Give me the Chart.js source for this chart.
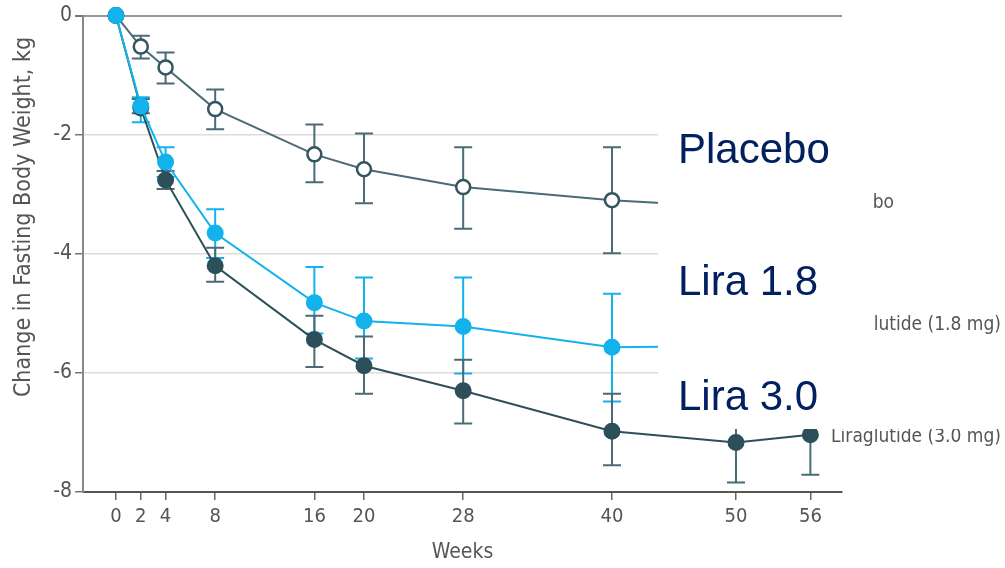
<!DOCTYPE html>
<html>
<head>
<meta charset="utf-8">
<script src="https://cdn.jsdelivr.net/npm/chart.js@4.4.1/dist/chart.umd.min.js"></script>
<style>
  html, body { margin: 0; padding: 0; background: #fff; }
  #wrap { width: 1005px; height: 568px; }
</style>
</head>
<body>
<div id="wrap"><canvas id="weightChart" width="1005" height="568"></canvas></div>
<script>
const weeks = [0, 2, 4, 8, 16, 20, 28, 40, 50, 56];

const placebo   = [0, -0.52, -0.87, -1.57, -2.33, -2.58, -2.88, -3.10, -3.22, -3.30];
const placeboHi = [0, -0.34, -0.62, -1.24, -1.83, -1.98, -2.21, -2.21, -2.35, -2.40];
const placeboLo = [0, -0.72, -1.14, -1.91, -2.80, -3.15, -3.58, -3.99, -4.10, -4.20];

const lira18   = [0, -1.52, -2.46, -3.65, -4.82, -5.13, -5.22, -5.57, -5.55, -5.50];
const lira18Hi = [0, -1.37, -2.21, -3.25, -4.22, -4.40, -4.40, -4.67, -4.60, -4.50];
const lira18Lo = [0, -1.79, -2.71, -4.07, -5.34, -5.76, -6.01, -6.48, -6.50, -6.50];

const lira30   = [0, -1.55, -2.76, -4.20, -5.44, -5.88, -6.30, -6.98, -7.17, -7.04];
const lira30Hi = [0, -1.40, -2.61, -3.90, -5.04, -5.39, -5.78, -6.35, -6.50, -6.37];
const lira30Lo = [0, -1.64, -2.91, -4.47, -5.90, -6.35, -6.85, -7.55, -7.84, -7.71];

const yTicks = [0, -2, -4, -6, -8];

const BLUE = '#12b3ec';
const DARK = '#2c4f5a';
const SLATE = '#4a6b75';
const FONT = "'DejaVu Sans Condensed', 'Liberation Sans Narrow', 'Liberation Sans', sans-serif";

function pts(vals) {
  return weeks.map((w, i) => ({ x: w, y: vals[i] }));
}

// error bars, drawn under the markers
const errorBars = {
  id: 'errorBars',
  beforeDatasetsDraw(chart) {
    const ctx = chart.ctx;
    const xs = chart.scales.x, ys = chart.scales.y;
    chart.data.datasets.forEach(ds => {
      ctx.save();
      ctx.strokeStyle = ds.errColor;
      ctx.lineWidth = 2;
      weeks.forEach((w, i) => {
        if (ds.hi[i] === ds.lo[i]) return;
        const px = xs.getPixelForValue(w);
        const top = ys.getPixelForValue(ds.hi[i]);
        const bot = ys.getPixelForValue(ds.lo[i]);
        ctx.beginPath();
        ctx.moveTo(px, top); ctx.lineTo(px, bot);
        ctx.moveTo(px - 9, top); ctx.lineTo(px + 9, top);
        ctx.moveTo(px - 9, bot); ctx.lineTo(px + 9, bot);
        ctx.stroke();
      });
      ctx.restore();
    });
  }
};

// original end labels, white cover boxes and the large overlay labels
const overlay = {
  id: 'overlay',
  afterDatasetsDraw(chart) {
    const ctx = chart.ctx;
    ctx.save();
    ctx.fillStyle = '#555';
    ctx.font = '19px ' + FONT;
    ctx.textBaseline = 'middle';
    ctx.textAlign = 'right';
    ctx.fillText('Placebo', 894, 203);
    ctx.fillText('Liraglutide (1.8 mg)', 1001, 325);
    ctx.fillText('Liraglutide (3.0 mg)', 1001, 437);
    const boEdge = 894 - ctx.measureText('bo').width;
    const lutEdge = 1001 - ctx.measureText('lutide (1.8 mg)').width + 1;

    ctx.fillStyle = '#fff';
    ctx.fillRect(658, 20, boEdge - 658, 232);
    ctx.fillRect(658, 252, lutEdge - 658, 110);
    ctx.fillRect(658, 362, 347, 67);

    ctx.fillStyle = '#002060';
    ctx.font = "42px 'Liberation Sans', Arial, sans-serif";
    ctx.textAlign = 'left';
    ctx.textBaseline = 'alphabetic';
    ctx.fillText('Placebo', 678, 163);
    ctx.fillText('Lira 1.8', 678, 295);
    ctx.fillText('Lira 3.0', 678, 410);

    // y axis title
    ctx.fillStyle = '#555';
    ctx.font = '23px ' + FONT;
    ctx.translate(24, 217);
    ctx.rotate(-Math.PI / 2);
    ctx.textAlign = 'center';
    ctx.textBaseline = 'middle';
    ctx.fillText('Change in Fasting Body Weight, kg', 0, 0);
    ctx.restore();
  }
};

new Chart(document.getElementById('weightChart').getContext('2d'), {
  type: 'line',
  data: {
    datasets: [
      {
        label: 'Liraglutide (1.8 mg)',
        data: pts(lira18),
        hi: lira18Hi, lo: lira18Lo, errColor: BLUE,
        borderColor: BLUE,
        backgroundColor: BLUE,
        pointBackgroundColor: BLUE,
        pointBorderColor: BLUE,
        pointRadius: 7.5,
        borderWidth: 2,
        clip: false
      },
      {
        label: 'Placebo',
        data: pts(placebo),
        hi: placeboHi, lo: placeboLo, errColor: SLATE,
        borderColor: SLATE,
        backgroundColor: '#fff',
        pointBackgroundColor: '#fff',
        pointBorderColor: '#33555f',
        pointBorderWidth: 2.5,
        pointRadius: 7,
        borderWidth: 2,
        clip: false
      },
      {
        label: 'Liraglutide (3.0 mg)',
        data: pts(lira30),
        hi: lira30Hi, lo: lira30Lo, errColor: SLATE,
        borderColor: DARK,
        backgroundColor: DARK,
        pointBackgroundColor: DARK,
        pointBorderColor: DARK,
        pointRadius: 7.5,
        borderWidth: 2,
        clip: false
      }
    ]
  },
  options: {
    responsive: false,
    animation: false,
    layout: { padding: { left: 0, right: 163, top: 15, bottom: 0 } },
    plugins: {
      legend: { display: false },
      tooltip: { enabled: false }
    },
    scales: {
      x: {
        type: 'linear',
        min: -2.66,
        max: 58.55,
        afterBuildTicks: (scale) => { scale.ticks = weeks.map(v => ({ value: v })); },
        afterFit: (scale) => { scale.height = 76; },
        ticks: { color: '#555', font: { family: FONT, size: 20 }, padding: 5, autoSkip: false, maxRotation: 0 },
        grid: { drawOnChartArea: false, drawTicks: true, tickLength: 8, color: '#666', lineWidth: 1.5 },
        border: { display: true, color: '#555', width: 2 },
        title: { display: true, text: 'Weeks', color: '#555', font: { family: FONT, size: 21 }, padding: { top: 0, bottom: 3 } }
      },
      y: {
        min: -8,
        max: 0,
        afterBuildTicks: (scale) => { scale.ticks = yTicks.map(v => ({ value: v })); },
        afterFit: (scale) => { scale.width = 83; },
        ticks: { color: '#555', font: { family: FONT, size: 21 }, padding: 3 },
        grid: {
          drawTicks: true,
          tickLength: 8,
          color: (c) => (c.tick && c.tick.value === 0) ? '#999' : (c.tick && c.tick.value === -8 ? '#555' : '#dcdcdc'),
          tickColor: '#777',
          lineWidth: (c) => (c.tick && c.tick.value === 0) ? 2 : 1.5
        },
        border: { display: true, color: '#888', width: 2 }
      }
    }
  },
  plugins: [errorBars, overlay]
});
</script>
</body>
</html>
